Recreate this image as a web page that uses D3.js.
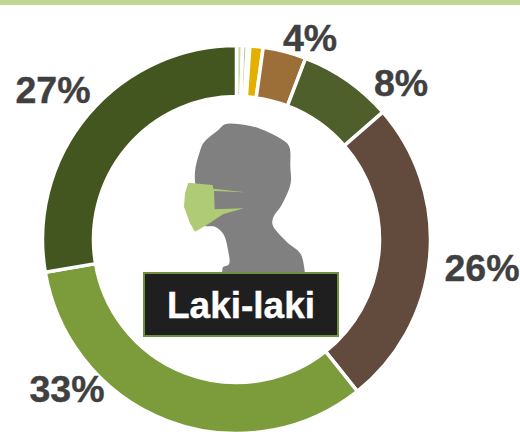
<!DOCTYPE html>
<html lang="en">
<head>
  <meta charset="UTF-8" />
  <title>Laki-laki</title>
  <style>
    html, body { margin: 0; padding: 0; background: #fff; overflow: hidden; }
    svg { display: block; }
    .slice { stroke: #fff; stroke-width: 3.5px; }
    .label { font: bold 37.5px "Liberation Sans", Arial, sans-serif; fill: #404040; stroke: #404040; stroke-width: 0.4px; text-anchor: middle; }
    .title { font: bold 37px "Liberation Sans", Arial, sans-serif; fill: #fff; stroke: #fff; stroke-width: 0.4px; text-anchor: middle; }
  </style>
  <script src="https://d3js.org/d3.v7.min.js"></script>
</head>
<body>
  <div id="chart"></div>
  <script type="text/javascript">
    const categories = ["a", "b", "c", "d", "e", "f", "g", "h", "i"];
    const values = [0.5, 0.4, 0.2, 1.1, 3.6, 7.8, 25.7, 33, 27.7];
    const colors = ["#c5d9a0", "#b9d08a", "#ffffff", "#e3b000", "#9c6f38", "#4e5f2b", "#624a3c", "#7c9c3c", "#44561f"];
    const labels = ["", "", "", "", "4%", "8%", "26%", "33%", "27%"];

    const width = 520, height = 432;
    const cx = 236.5, cy = 239.5, outer = 194, inner = 143;

    // label centres, placed by hand like the original
    const labelPos = {
      "4%": [310, 51], "8%": [401, 96], "26%": [482, 281], "33%": [67, 402], "27%": [53, 103]
    };

    const svg = d3.select("#chart").append("svg")
      .attr("width", width)
      .attr("height", height);

    svg.append("rect")
      .attr("width", width)
      .attr("height", 5)
      .attr("fill", "#c0d792");

    const pie = d3.pie().sort(null).value((d, i) => values[i]);
    const arc = d3.arc().innerRadius(inner).outerRadius(outer);

    svg.append("g")
      .attr("transform", `translate(${cx},${cy})`)
      .selectAll(".slice")
      .data(pie(categories))
      .enter().append("path")
      .attr("class", "slice")
      .attr("fill", (d, i) => colors[i])
      .attr("d", arc);

    svg.selectAll(".label")
      .data(labels.filter(l => l))
      .enter().append("text")
      .attr("class", "label")
      .attr("x", d => labelPos[d][0])
      .attr("y", d => labelPos[d][1])
      .text(d => d);

    // head and mask
    const headLine = [[247,490],[249,472],[267,463],[264,420],[250,372],[225,350],[190,345],[168,240],[165,185],[178,130],[192,97],[235,60],[255,43],[300,43],[360,56],[420,85],[447,108],[451,170],[452,220],[425,285],[400,322],[398,345],[440,395],[482,432],[495,490]];
    const icon = svg.append("g").attr("transform", "translate(140,110) scale(0.3333)");
    icon.append("path")
      .attr("fill", "#808080")
      .attr("d", d3.line().curve(d3.curveCatmullRom)(headLine) + "Z");
    icon.append("path")
      .attr("fill", "#afcb75")
      .attr("d", "M145,218 L218,225 L220,236 L316,247 L222,243 L224,298 L312,295 L250,312 L200,345 L165,365 L150,340 L132,290 L135,250 Z");

    svg.append("rect")
      .attr("x", 144)
      .attr("y", 273)
      .attr("width", 194)
      .attr("height", 63)
      .attr("fill", "#1f1f1f")
      .attr("stroke", "#6f8f3a")
      .attr("stroke-width", 2);

    svg.append("text")
      .attr("class", "title")
      .attr("x", 241)
      .attr("y", 318)
      .text("Laki-laki");
  </script>
</body>
</html>
